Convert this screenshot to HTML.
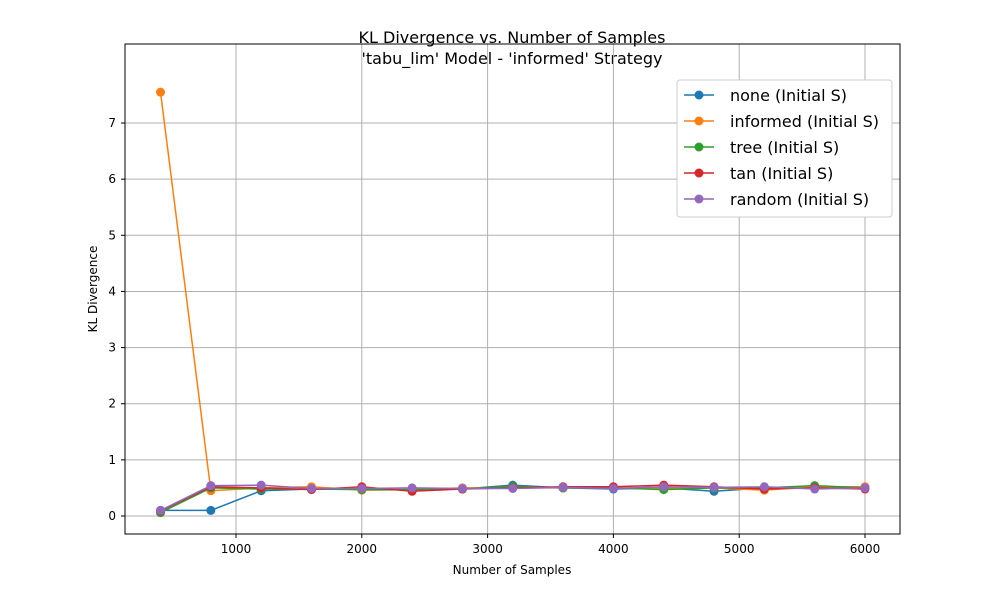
<!DOCTYPE html>
<html><head><meta charset="utf-8"><style>body{margin:0;background:#fff}svg{font-family:"DejaVu Sans","Liberation Sans",sans-serif}</style></head>
<body>
<svg id="chart" width="1000" height="600" xmlns="http://www.w3.org/2000/svg">
<rect width="1000" height="600" fill="#fff"/>
<text x="512" y="43" text-anchor="middle" font-size="16">KL Divergence vs. Number of Samples</text>
<text x="512" y="64" text-anchor="middle" font-size="16">'tabu_lim' Model - 'informed' Strategy</text>
<g id="grid"></g><g id="series"></g>
<rect x="125" y="44" width="775" height="490" fill="none" stroke="#000" stroke-width="1"/>
<g id="ticks"></g>
<text x="512" y="574" text-anchor="middle" font-size="12">Number of Samples</text>
<text transform="translate(97,289) rotate(-90)" text-anchor="middle" font-size="12">KL Divergence</text>
<g id="legend"></g>
</svg>
<script>
const samples=[400,800,1200,1600,2000,2400,2800,3200,3600,4000,4400,4800,5200,5600,6000];
const seriesNames=["none (Initial S)","informed (Initial S)","tree (Initial S)","tan (Initial S)","random (Initial S)"];
const colors=["#1f77b4","#ff7f0e","#2ca02c","#d62728","#9467bd"];
const noneVals=[0.1,0.1,0.45,0.48,0.48,0.47,0.48,0.55,0.5,0.48,0.5,0.44,0.5,0.5,0.5];
const informedVals=[7.55,0.45,0.5,0.52,0.46,0.47,0.5,0.5,0.5,0.5,0.5,0.5,0.46,0.52,0.52];
const treeVals=[0.06,0.5,0.48,0.48,0.47,0.47,0.48,0.53,0.5,0.5,0.47,0.5,0.5,0.54,0.5];
const tanVals=[0.09,0.52,0.5,0.47,0.52,0.44,0.48,0.5,0.52,0.52,0.55,0.52,0.48,0.5,0.48];
const randomVals=[0.1,0.54,0.55,0.49,0.49,0.5,0.49,0.49,0.51,0.49,0.52,0.51,0.52,0.48,0.5];
const xTicks=[1000,2000,3000,4000,5000,6000];
const yTicks=[0,1,2,3,4,5,6,7];
const allVals=[noneVals,informedVals,treeVals,tanVals,randomVals];
const NS="http://www.w3.org/2000/svg";
const X=v=>236+(v-1000)*0.1258;
const Y=v=>516-v*56.14;
function mk(t,a,p){const e=document.createElementNS(NS,t);for(const k in a)e.setAttribute(k,a[k]);p.appendChild(e);return e;}
const grid=document.getElementById('grid'),ticks=document.getElementById('ticks');
xTicks.forEach(t=>{const x=X(t);
const g=mk('line',{x1:x,x2:x,y1:44,y2:534,stroke:'#b0b0b0','stroke-width':1},grid);


mk('line',{x1:x,x2:x,y1:534,y2:538,stroke:'#000'},ticks);
const l=mk('text',{x:x,y:553,'text-anchor':'middle','font-size':12},ticks);l.textContent=t;

});
yTicks.forEach(t=>{const y=Y(t);
const g=mk('line',{x1:125,x2:900,y1:y,y2:y,stroke:'#b0b0b0','stroke-width':1},grid);


mk('line',{x1:121,x2:125,y1:y,y2:y,stroke:'#000'},ticks);
const l=mk('text',{x:116,y:y+4,'text-anchor':'end','font-size':12},ticks);l.textContent=t;

});
const sg=document.getElementById('series');
allVals.forEach((vals,i)=>{const g=mk('g',{},sg);


mk('polyline',{points:vals.map((v,j)=>X(samples[j])+','+Y(v)).join(' '),fill:'none',stroke:colors[i],'stroke-width':1.5},g);
vals.forEach((v,j)=>{const c=mk('circle',{cx:X(samples[j]),cy:Y(v),r:4.5,fill:colors[i]},g);

});});
const lg=document.getElementById('legend');
const box=mk('rect',{x:677,y:80,width:215,height:137,fill:'#fff',stroke:'#ccc',rx:3},lg);


seriesNames.forEach((n,i)=>{const y=95+i*26;
const g=mk('g',{},lg);


mk('line',{x1:684,x2:714,y1:y,y2:y,stroke:colors[i],'stroke-width':1.5},g);
mk('circle',{cx:699,cy:y,r:4.5,fill:colors[i]},g);
const t=mk('text',{x:730,y:y+6,'font-size':16},g);t.textContent=n;});
</script>
</body></html>
